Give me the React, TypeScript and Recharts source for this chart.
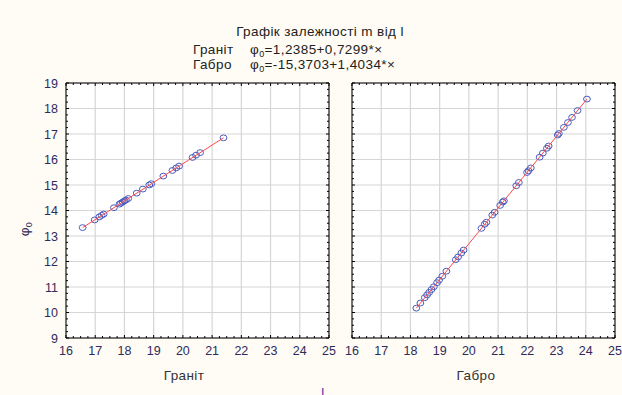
import * as React from "react";
import {
  ScatterChart, Scatter, XAxis, YAxis, CartesianGrid, ReferenceArea,
} from "recharts";

// ─── Data ─────────────────────────────────────────────────
const graniteX = [16.57, 16.98, 17.14, 17.22, 17.29, 17.64, 17.83, 17.88, 17.94, 18.0, 18.05, 18.13, 18.42, 18.63, 18.85, 18.92, 19.33, 19.64, 19.77, 19.87, 20.33, 20.45, 20.59, 21.39];
const graniteY = [13.33, 13.63, 13.75, 13.81, 13.86, 14.11, 14.25, 14.29, 14.33, 14.38, 14.41, 14.47, 14.68, 14.84, 15.0, 15.05, 15.35, 15.57, 15.67, 15.74, 16.08, 16.17, 16.27, 16.85];

const gabbroX = [18.2, 18.34, 18.49, 18.57, 18.64, 18.72, 18.8, 18.91, 18.98, 19.09, 19.23, 19.55, 19.63, 19.74, 19.82, 20.43, 20.54, 20.6, 20.8, 20.88, 21.07, 21.16, 21.2, 21.62, 21.71, 21.99, 22.04, 22.12, 22.42, 22.53, 22.67, 22.73, 23.04, 23.08, 23.25, 23.39, 23.53, 23.72, 24.04];
const gabbroY = [10.17, 10.37, 10.58, 10.69, 10.79, 10.9, 11.01, 11.17, 11.27, 11.42, 11.62, 12.07, 12.18, 12.33, 12.45, 13.3, 13.46, 13.54, 13.82, 13.93, 14.2, 14.33, 14.38, 14.97, 15.1, 15.49, 15.56, 15.67, 16.09, 16.25, 16.44, 16.53, 16.96, 17.02, 17.26, 17.45, 17.65, 17.92, 18.37];

// fitted line end points
const graniteFitX = [16.57, 21.39];
const graniteFitY = [13.33, 16.85];
const gabbroFitX = [18.2, 24.04];
const gabbroFitY = [10.17, 18.37];

const xTicks = [16, 17, 18, 19, 20, 21, 22, 23, 24, 25];
const yTicks = [9, 10, 11, 12, 13, 14, 15, 16, 17, 18, 19];

// ─── Style ────────────────────────────────────────────────
const FONT = "'Liberation Sans', Arial, sans-serif";
const BG = "#fffcf5";
const TICK_COLOR = "#2e2a5c";
const POINT_COLOR = "#4b5bbd";
const LINE_COLOR = "#ff4a4a";
const GRID_COLOR = "#d6d6d6";

const CHART_H = 395;
const PLOT_TOP = 83;
const PLOT_BOTTOM = 338;

// minor tick positions between the major ones
const withMinor = (ticks: number[], parts: number) => {
  const out: number[] = [];
  ticks.forEach((t, i) => {
    if (i < ticks.length - 1) {
      const step = (ticks[i + 1] - t) / parts;
      for (let k = 1; k < parts; k++) out.push(t + step * k);
    }
  });
  return out;
};

const xMinor = withMinor(xTicks, 4);
const yMinor = withMinor(yTicks, 4);

const toPoints = (xs: number[], ys: number[]) => xs.map((x, i) => ({ x, y: ys[i] }));

const makeXTick = (len: number, labels: boolean) => (props: any) => {
  const { x, payload } = props;
  return (
    <g>
      <line x1={ x } x2={ x } y1={ PLOT_TOP } y2={ PLOT_TOP + len } stroke="#000" />
      <line x1={ x } x2={ x } y1={ PLOT_BOTTOM } y2={ PLOT_BOTTOM - len } stroke="#000" />
      { labels && (
        <text x={ x } y={ PLOT_BOTTOM + 17 } textAnchor="middle" fontSize={ 12.5 } fill={ TICK_COLOR } fontFamily={ FONT }>
          { payload.value }
        </text>
      ) }
    </g>
  );
};

const makeYTick = (left: number, right: number, len: number, labels: boolean) => (props: any) => {
  const { y, payload } = props;
  return (
    <g>
      <line x1={ left } x2={ left + len } y1={ y } y2={ y } stroke="#000" />
      <line x1={ right } x2={ right - len } y1={ y } y2={ y } stroke="#000" />
      { labels && (
        <text x={ left - 8 } y={ y + 4.5 } textAnchor="end" fontSize={ 12.5 } fill={ TICK_COLOR } fontFamily={ FONT }>
          { payload.value }
        </text>
      ) }
    </g>
  );
};

const Circle = (props: any) => (
  <ellipse cx={ props.cx } cy={ props.cy } rx={ 3.4 } ry={ 2.9 } fill="none" stroke={ POINT_COLOR } strokeWidth={ 1 } />
);

const NoShape = () => <g />;

interface PanelProps {
  left: number;
  width: number;
  marginLeft: number;
  marginRight: number;
  points: { x: number; y: number }[];
  fit: { x: number; y: number }[];
  yLabels: boolean;
}

function Panel({ left, width, marginLeft, marginRight, points, fit, yLabels }: PanelProps) {
  const plotLeft = marginLeft;
  const plotRight = width - marginRight;
  return (
    <div style={ { position: "absolute", left, top: 0 } }>
      <ScatterChart
        width={ width }
        height={ CHART_H }
        margin={ { top: PLOT_TOP, right: marginRight, bottom: CHART_H - PLOT_BOTTOM - 2, left: marginLeft - 2 } }
      >
        <CartesianGrid fill="#fff" stroke={ GRID_COLOR } strokeWidth={ 1.2 } />
        <XAxis
          type="number"
          dataKey="x"
          domain={ [16, 25] }
          ticks={ xTicks }
          interval={ 0 }
          height={ 1 }
          axisLine={ false }
          tickLine={ false }
          tick={ makeXTick(3, true) }
        />
        <XAxis
          xAxisId="minor"
          type="number"
          dataKey="x"
          domain={ [16, 25] }
          allowDataOverflow
          ticks={ xMinor }
          interval={ 0 }
          height={ 1 }
          axisLine={ false }
          tickLine={ false }
          tick={ makeXTick(2, false) }
        />
        <YAxis
          type="number"
          dataKey="y"
          domain={ [9, 19] }
          ticks={ yTicks }
          interval={ 0 }
          width={ 1 }
          axisLine={ false }
          tickLine={ false }
          tick={ makeYTick(plotLeft, plotRight, 3, yLabels) }
        />
        <YAxis
          yAxisId="minor"
          type="number"
          dataKey="y"
          domain={ [9, 19] }
          allowDataOverflow
          ticks={ yMinor }
          interval={ 0 }
          width={ 1 }
          axisLine={ false }
          tickLine={ false }
          tick={ makeYTick(plotLeft, plotRight, 2, false) }
        />
        <ReferenceArea x1={ 16 } x2={ 25 } y1={ 9 } y2={ 19 } fill="none" stroke="#000" strokeWidth={ 1 } fillOpacity={ 0 } />
        <Scatter data={ points } shape={ Circle } isAnimationActive={ false } />
        <Scatter
          data={ fit }
          shape={ NoShape }
          line={ { stroke: LINE_COLOR, strokeWidth: 1 } }
          isAnimationActive={ false }
        />
      </ScatterChart>
    </div>
  );
}

export default function App() {
  return (
    <div
      style={ {
        position: "absolute",
        left: 0,
        top: 0,
        width: 622,
        height: 395,
        background: BG,
        overflow: "hidden",
        fontFamily: FONT,
      } }
    >
      <Panel
        left={ 0 }
        width={ 340 }
        marginLeft={ 66 }
        marginRight={ 11 }
        points={ toPoints(graniteX, graniteY) }
        fit={ toPoints(graniteFitX, graniteFitY) }
        yLabels
      />
      <Panel
        left={ 310 }
        width={ 312 }
        marginLeft={ 42 }
        marginRight={ 7 }
        points={ toPoints(gabbroX, gabbroY) }
        fit={ toPoints(gabbroFitX, gabbroFitY) }
        yLabels={ false }
      />

      <svg width={ 622 } height={ 395 } style={ { position: "absolute", left: 0, top: 0, pointerEvents: "none" } }>
        <g fontFamily={ FONT } fill="#222" fontSize={ 13.5 } letterSpacing={ 0.4 }>
          <text x={ 320 } y={ 36 } textAnchor="middle">Графік залежності m від l</text>
          <text x={ 193 } y={ 54 }>Граніт</text>
          <text x={ 250 } y={ 54 }>
            φ<tspan fontSize={ 9 } dy={ 3 }>0</tspan><tspan dy={ -3 }>=1,2385+0,7299*×</tspan>
          </text>
          <text x={ 193 } y={ 69 }>Габро</text>
          <text x={ 250 } y={ 69 }>
            φ<tspan fontSize={ 9 } dy={ 3 }>0</tspan><tspan dy={ -3 }>=-15,3703+1,4034*×</tspan>
          </text>
          <text x={ 184 } y={ 380 } textAnchor="middle" fill="#333">Граніт</text>
          <text x={ 476 } y={ 380 } textAnchor="middle" fill="#333">Габро</text>
          <text x={ 323 } y={ 397 } textAnchor="middle" fill="#5a2ea6">l</text>
          <text x={ 29 } y={ 229 } textAnchor="middle" transform="rotate(-90 29 229)" fill={ TICK_COLOR }>
            φ<tspan fontSize={ 9 } dy={ 3 }>0</tspan>
          </text>
        </g>
      </svg>
    </div>
  );
}
